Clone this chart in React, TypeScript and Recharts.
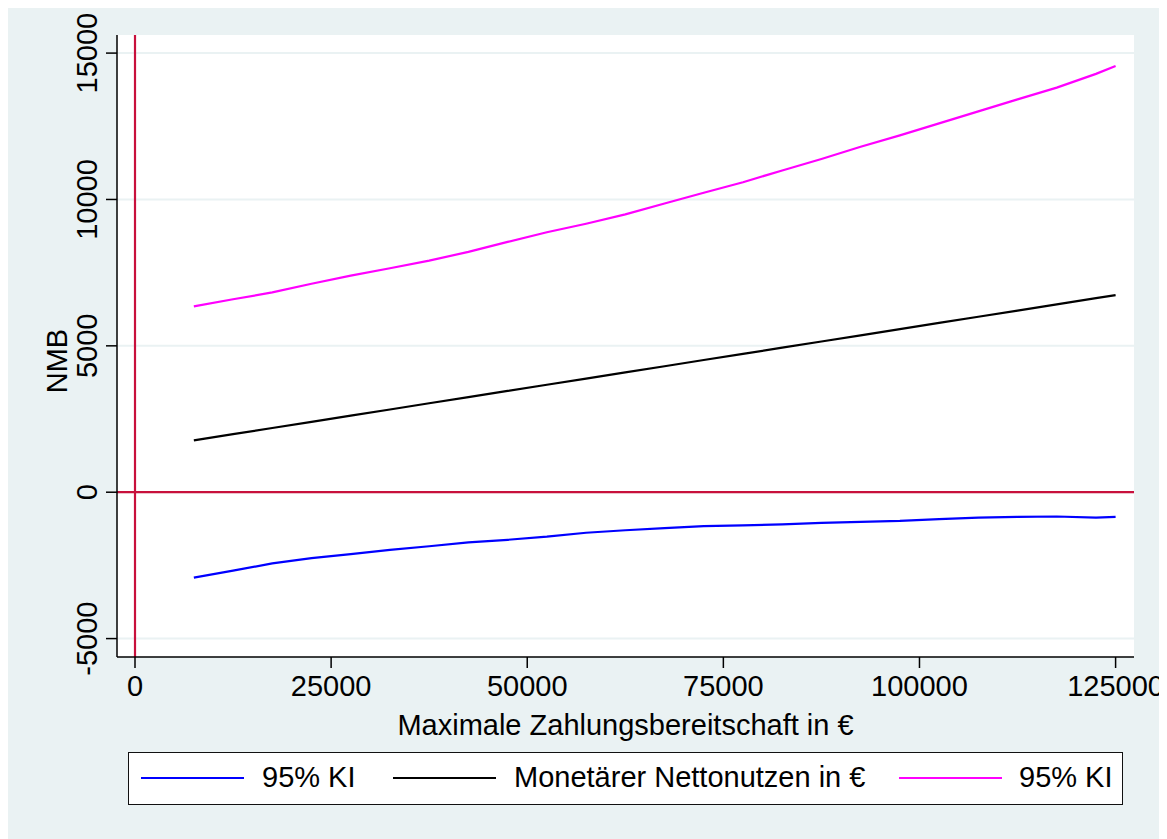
import React from "react";
import {
  LineChart,
  Line,
  XAxis,
  YAxis,
  CartesianGrid,
  ReferenceLine,
  Legend,
} from "recharts";

// Maximale Zahlungsbereitschaft (€)
const wtp = [
  7500, 12500, 17500, 22500, 27500, 32500, 37500, 42500, 47500, 52500, 57500,
  62500, 67500, 72500, 77500, 82500, 87500, 92500, 97500, 102500, 107500,
  112500, 117500, 122500, 125000,
];

// Monetärer Nettonutzen
const nmb = [
  1771, 1982, 2193, 2404, 2615, 2826, 3038, 3249, 3460, 3671, 3882, 4093, 4304,
  4516, 4727, 4938, 5149, 5360, 5571, 5782, 5994, 6205, 6416, 6627, 6733,
];

// 95% KI untere Grenze
const ciLow = [
  -2920, -2680, -2430, -2250, -2115, -1970, -1845, -1715, -1625, -1520, -1385,
  -1300, -1230, -1160, -1130, -1100, -1045, -1010, -980, -920, -870, -845,
  -830, -870, -845,
];

// 95% KI obere Grenze
const ciHigh = [
  6350, 6590, 6825, 7120, 7400, 7650, 7910, 8210, 8550, 8880, 9170, 9490, 9860,
  10230, 10590, 10990, 11380, 11800, 12190, 12600, 13010, 13420, 13820, 14290,
  14560,
];

const xTicks = [0, 25000, 50000, 75000, 100000, 125000];
const yTicks = [-5000, 0, 5000, 10000, 15000];

const legendItems = [
  { label: "95% KI", color: "#0000FF" },
  { label: "Monetärer Nettonutzen in €", color: "#000000" },
  { label: "95% KI", color: "#FF00FF" },
];

const data = wtp.map((w, i) => ({
  wtp: w,
  low: ciLow[i],
  nmb: nmb[i],
  high: ciHigh[i],
}));

const FONT = "'Liberation Sans', Arial, sans-serif";
const FS = 29;
const BG = "#EAF2F3";
const RED = "#C8103C";

const YTick = (props: any) => {
  const { x, y, payload } = props;
  return (
    <text
      x={x}
      y={y}
      transform={`rotate(-90, ${x}, ${y})`}
      textAnchor="middle"
      fontSize={FS}
      fontFamily={FONT}
      fill="#000"
    >
      {payload.value}
    </text>
  );
};

const YTitle = (props: any) => {
  const { viewBox } = props;
  const x = 59;
  const y = viewBox.y + viewBox.height / 2 + 15;
  return (
    <text
      x={x}
      y={y}
      transform={`rotate(-90, ${x}, ${y})`}
      textAnchor="middle"
      fontSize={FS}
      fontFamily={FONT}
      fill="#000"
    >
      NMB
    </text>
  );
};

const XTitle = (props: any) => {
  const { viewBox } = props;
  return (
    <text
      x={viewBox.x + viewBox.width / 2}
      y={727}
      textAnchor="middle"
      fontSize={FS}
      fontFamily={FONT}
      fill="#000"
    >
      Maximale Zahlungsbereitschaft in €
    </text>
  );
};

const legendPos = [
  { line: 12, text: 133 },
  { line: 264, text: 385 },
  { line: 770, text: 890 },
];

const LegendBox = () => (
  <div
    style={{
      position: "relative",
      width: 995,
      height: 53,
      boxSizing: "border-box",
      border: "1.5px solid #111",
      background: "#fff",
      fontFamily: FONT,
      fontSize: FS,
    }}
  >
    {legendItems.map((it, i) => (
      <React.Fragment key={i}>
        <div
          style={{
            position: "absolute",
            left: legendPos[i].line,
            top: 24,
            width: 103,
            height: 2,
            background: it.color,
          }}
        />
        <div
          style={{
            position: "absolute",
            left: legendPos[i].text,
            top: 8,
            lineHeight: "32px",
            whiteSpace: "nowrap",
            color: "#000",
          }}
        >
          {it.label}
        </div>
      </React.Fragment>
    ))}
  </div>
);

export default function App() {
  return (
    <div style={{ width: 1159, height: 831, background: BG, position: "relative" }}>
      <LineChart
        width={1159}
        height={831}
        data={data}
        margin={{ top: 27, right: 33, left: 0, bottom: 122 }}
      >
        <CartesianGrid
          vertical={false}
          horizontalValues={yTicks}
          stroke={BG}
          strokeWidth={2}
          fill="#FFFFFF"
          fillOpacity={1}
        />
        <XAxis
          dataKey="wtp"
          type="number"
          domain={[-2295, 127346]}
          allowDataOverflow
          ticks={xTicks}
          interval={0}
          height={60}
          tickSize={11}
          tickMargin={7}
          stroke="#000"
          strokeWidth={1.5}
          tick={{ fontSize: FS, fontFamily: FONT, fill: "#000" }}
          label={<XTitle />}
        />
        <YAxis
          type="number"
          domain={[-5629, 15618]}
          allowDataOverflow
          ticks={yTicks}
          interval={0}
          width={109}
          tickSize={11}
          tickMargin={9}
          stroke="#000"
          strokeWidth={1.5}
          tick={<YTick />}
          label={<YTitle />}
        />
        <ReferenceLine x={0} stroke={RED} strokeWidth={2.2} />
        <ReferenceLine y={0} stroke={RED} strokeWidth={2.2} />
        <Line
          dataKey="low"
          stroke="#0000FF"
          strokeWidth={2.2}
          dot={false}
          type="linear"
          isAnimationActive={false}
        />
        <Line
          dataKey="nmb"
          stroke="#000000"
          strokeWidth={2.2}
          dot={false}
          type="linear"
          isAnimationActive={false}
        />
        <Line
          dataKey="high"
          stroke="#FF00FF"
          strokeWidth={2.2}
          dot={false}
          type="linear"
          isAnimationActive={false}
        />
        <Legend
          verticalAlign="middle"
          layout="horizontal"
          content={() => <LegendBox />}
          wrapperStyle={{ left: 120, top: 744, width: 995, height: 53 }}
        />
      </LineChart>
    </div>
  );
}
